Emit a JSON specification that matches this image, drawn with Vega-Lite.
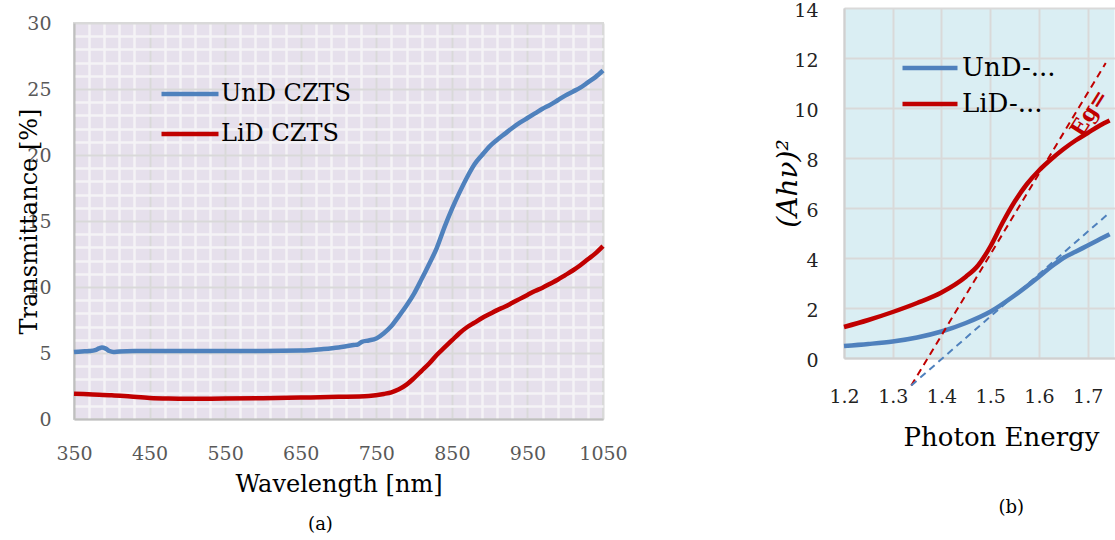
{
  "$schema": "https://vega.github.io/schema/vega-lite/v6.json",
  "background": "white",
  "padding": {"left": 16, "top": 1, "right": 0, "bottom": 0},
  "config": {"font": "DejaVu Serif"},
  "datasets": {
    "transA": [
      {"nm": 350, "T": 5.07, "series": "UnD CZTS"},
      {"nm": 360, "T": 5.12, "series": "UnD CZTS"},
      {"nm": 370, "T": 5.15, "series": "UnD CZTS"},
      {"nm": 378, "T": 5.22, "series": "UnD CZTS"},
      {"nm": 383, "T": 5.35, "series": "UnD CZTS"},
      {"nm": 387, "T": 5.42, "series": "UnD CZTS"},
      {"nm": 392, "T": 5.33, "series": "UnD CZTS"},
      {"nm": 397, "T": 5.15, "series": "UnD CZTS"},
      {"nm": 402, "T": 5.08, "series": "UnD CZTS"},
      {"nm": 410, "T": 5.12, "series": "UnD CZTS"},
      {"nm": 430, "T": 5.15, "series": "UnD CZTS"},
      {"nm": 500, "T": 5.15, "series": "UnD CZTS"},
      {"nm": 600, "T": 5.15, "series": "UnD CZTS"},
      {"nm": 650, "T": 5.18, "series": "UnD CZTS"},
      {"nm": 680, "T": 5.3, "series": "UnD CZTS"},
      {"nm": 700, "T": 5.42, "series": "UnD CZTS"},
      {"nm": 720, "T": 5.6, "series": "UnD CZTS"},
      {"nm": 726, "T": 5.66, "series": "UnD CZTS"},
      {"nm": 731, "T": 5.85, "series": "UnD CZTS"},
      {"nm": 740, "T": 5.95, "series": "UnD CZTS"},
      {"nm": 750, "T": 6.1, "series": "UnD CZTS"},
      {"nm": 760, "T": 6.5, "series": "UnD CZTS"},
      {"nm": 770, "T": 7.05, "series": "UnD CZTS"},
      {"nm": 780, "T": 7.8, "series": "UnD CZTS"},
      {"nm": 790, "T": 8.6, "series": "UnD CZTS"},
      {"nm": 800, "T": 9.5, "series": "UnD CZTS"},
      {"nm": 810, "T": 10.6, "series": "UnD CZTS"},
      {"nm": 820, "T": 11.75, "series": "UnD CZTS"},
      {"nm": 830, "T": 12.95, "series": "UnD CZTS"},
      {"nm": 840, "T": 14.5, "series": "UnD CZTS"},
      {"nm": 850, "T": 15.9, "series": "UnD CZTS"},
      {"nm": 860, "T": 17.15, "series": "UnD CZTS"},
      {"nm": 870, "T": 18.3, "series": "UnD CZTS"},
      {"nm": 880, "T": 19.3, "series": "UnD CZTS"},
      {"nm": 890, "T": 20.0, "series": "UnD CZTS"},
      {"nm": 900, "T": 20.65, "series": "UnD CZTS"},
      {"nm": 910, "T": 21.15, "series": "UnD CZTS"},
      {"nm": 920, "T": 21.6, "series": "UnD CZTS"},
      {"nm": 930, "T": 22.05, "series": "UnD CZTS"},
      {"nm": 940, "T": 22.45, "series": "UnD CZTS"},
      {"nm": 950, "T": 22.8, "series": "UnD CZTS"},
      {"nm": 960, "T": 23.15, "series": "UnD CZTS"},
      {"nm": 970, "T": 23.5, "series": "UnD CZTS"},
      {"nm": 980, "T": 23.8, "series": "UnD CZTS"},
      {"nm": 990, "T": 24.15, "series": "UnD CZTS"},
      {"nm": 1000, "T": 24.5, "series": "UnD CZTS"},
      {"nm": 1010, "T": 24.8, "series": "UnD CZTS"},
      {"nm": 1020, "T": 25.1, "series": "UnD CZTS"},
      {"nm": 1030, "T": 25.5, "series": "UnD CZTS"},
      {"nm": 1040, "T": 25.9, "series": "UnD CZTS"},
      {"nm": 1050, "T": 26.4, "series": "UnD CZTS"},
      {"nm": 350, "T": 1.92, "series": "LiD CZTS"},
      {"nm": 375, "T": 1.86, "series": "LiD CZTS"},
      {"nm": 400, "T": 1.8, "series": "LiD CZTS"},
      {"nm": 425, "T": 1.7, "series": "LiD CZTS"},
      {"nm": 450, "T": 1.6, "series": "LiD CZTS"},
      {"nm": 475, "T": 1.55, "series": "LiD CZTS"},
      {"nm": 500, "T": 1.53, "series": "LiD CZTS"},
      {"nm": 550, "T": 1.55, "series": "LiD CZTS"},
      {"nm": 600, "T": 1.58, "series": "LiD CZTS"},
      {"nm": 650, "T": 1.62, "series": "LiD CZTS"},
      {"nm": 700, "T": 1.68, "series": "LiD CZTS"},
      {"nm": 740, "T": 1.75, "series": "LiD CZTS"},
      {"nm": 760, "T": 1.9, "series": "LiD CZTS"},
      {"nm": 770, "T": 2.02, "series": "LiD CZTS"},
      {"nm": 780, "T": 2.25, "series": "LiD CZTS"},
      {"nm": 790, "T": 2.6, "series": "LiD CZTS"},
      {"nm": 800, "T": 3.1, "series": "LiD CZTS"},
      {"nm": 810, "T": 3.65, "series": "LiD CZTS"},
      {"nm": 820, "T": 4.2, "series": "LiD CZTS"},
      {"nm": 830, "T": 4.85, "series": "LiD CZTS"},
      {"nm": 840, "T": 5.4, "series": "LiD CZTS"},
      {"nm": 850, "T": 5.95, "series": "LiD CZTS"},
      {"nm": 860, "T": 6.5, "series": "LiD CZTS"},
      {"nm": 870, "T": 6.95, "series": "LiD CZTS"},
      {"nm": 880, "T": 7.3, "series": "LiD CZTS"},
      {"nm": 890, "T": 7.65, "series": "LiD CZTS"},
      {"nm": 900, "T": 7.95, "series": "LiD CZTS"},
      {"nm": 910, "T": 8.25, "series": "LiD CZTS"},
      {"nm": 920, "T": 8.5, "series": "LiD CZTS"},
      {"nm": 930, "T": 8.8, "series": "LiD CZTS"},
      {"nm": 940, "T": 9.1, "series": "LiD CZTS"},
      {"nm": 950, "T": 9.4, "series": "LiD CZTS"},
      {"nm": 960, "T": 9.7, "series": "LiD CZTS"},
      {"nm": 970, "T": 9.95, "series": "LiD CZTS"},
      {"nm": 980, "T": 10.25, "series": "LiD CZTS"},
      {"nm": 990, "T": 10.55, "series": "LiD CZTS"},
      {"nm": 1000, "T": 10.9, "series": "LiD CZTS"},
      {"nm": 1010, "T": 11.25, "series": "LiD CZTS"},
      {"nm": 1020, "T": 11.65, "series": "LiD CZTS"},
      {"nm": 1030, "T": 12.1, "series": "LiD CZTS"},
      {"nm": 1040, "T": 12.55, "series": "LiD CZTS"},
      {"nm": 1050, "T": 13.1, "series": "LiD CZTS"}
    ],
    "absB": [
      {"E": 1.2, "V": 0.48, "series": "UnD-..."},
      {"E": 1.25, "V": 0.56, "series": "UnD-..."},
      {"E": 1.3, "V": 0.66, "series": "UnD-..."},
      {"E": 1.35, "V": 0.82, "series": "UnD-..."},
      {"E": 1.4, "V": 1.06, "series": "UnD-..."},
      {"E": 1.45, "V": 1.4, "series": "UnD-..."},
      {"E": 1.5, "V": 1.85, "series": "UnD-..."},
      {"E": 1.55, "V": 2.5, "series": "UnD-..."},
      {"E": 1.6, "V": 3.25, "series": "UnD-..."},
      {"E": 1.625, "V": 3.65, "series": "UnD-..."},
      {"E": 1.65, "V": 4.0, "series": "UnD-..."},
      {"E": 1.675, "V": 4.25, "series": "UnD-..."},
      {"E": 1.7, "V": 4.5, "series": "UnD-..."},
      {"E": 1.72, "V": 4.7, "series": "UnD-..."},
      {"E": 1.745, "V": 4.95, "series": "UnD-..."},
      {"E": 1.2, "V": 1.24, "series": "LiD-..."},
      {"E": 1.25, "V": 1.52, "series": "LiD-..."},
      {"E": 1.3, "V": 1.84, "series": "LiD-..."},
      {"E": 1.35, "V": 2.2, "series": "LiD-..."},
      {"E": 1.4, "V": 2.62, "series": "LiD-..."},
      {"E": 1.45, "V": 3.25, "series": "LiD-..."},
      {"E": 1.475, "V": 3.7, "series": "LiD-..."},
      {"E": 1.5, "V": 4.45, "series": "LiD-..."},
      {"E": 1.525, "V": 5.4, "series": "LiD-..."},
      {"E": 1.55, "V": 6.25, "series": "LiD-..."},
      {"E": 1.575, "V": 6.95, "series": "LiD-..."},
      {"E": 1.6, "V": 7.5, "series": "LiD-..."},
      {"E": 1.625, "V": 7.95, "series": "LiD-..."},
      {"E": 1.65, "V": 8.35, "series": "LiD-..."},
      {"E": 1.675, "V": 8.7, "series": "LiD-..."},
      {"E": 1.7, "V": 9.0, "series": "LiD-..."},
      {"E": 1.725, "V": 9.3, "series": "LiD-..."},
      {"E": 1.745, "V": 9.5, "series": "LiD-..."}
    ],
    "fitB": [
      {"E": 1.338, "V": -1.1, "fit": "LiD"},
      {"E": 1.737, "V": 11.8, "fit": "LiD"},
      {"E": 1.338, "V": -1.1, "fit": "UnD"},
      {"E": 1.744, "V": 5.8, "fit": "UnD"}
    ],
    "egB": [
      {"E": 1.703, "V": 9.8, "label": "Eg="}
    ]
  },
  "resolve": {"scale": {"color": "independent"}, "legend": {"color": "independent"}},
  "spacing": 145,
  "hconcat": [
    {
      "spacing": 4,
      "vconcat": [
        {
          "width": 10,
          "height": 1,
          "view": {"stroke": null},
          "data": {"values": []},
          "mark": "point"
        },
        {
          "width": 529,
          "height": 396,
          "view": {"fill": "#E6E0EC", "stroke": "#D9D9D9", "strokeWidth": 2},
          "title": {"text": "(a)", "orient": "bottom", "fontSize": 18, "fontWeight": "normal", "font": "DejaVu Serif", "color": "black", "dx": -18, "offset": 20},
          "data": {"name": "transA"},
          "layer": [
            {
              "mark": {"type": "line", "opacity": 0},
              "encoding": {
                "x": {"field": "nm", "type": "quantitative", "scale": {"domain": [350, 1050], "nice": false, "zero": false},
                  "axis": {"orient": "bottom", "values": [370,390,410,430,470,490,510,530,570,590,610,630,670,690,710,730,770,790,810,830,870,890,910,930,970,990,1010,1030],
                    "grid": true, "gridColor": "#F4F3F6", "gridWidth": 2.5, "labels": false, "ticks": false, "domain": false, "title": null}},
                "y": {"field": "T", "type": "quantitative", "scale": {"domain": [0, 30], "nice": false},
                  "axis": {"orient": "left", "values": [1,2,3,4,6,7,8,9,11,12,13,14,16,17,18,19,21,22,23,24,26,27,28,29],
                    "grid": true, "gridColor": "#F4F3F6", "gridWidth": 2.5, "labels": false, "ticks": false, "domain": false, "title": null}}
              }
            },
            {
              "mark": {"type": "line", "strokeWidth": 4.5, "interpolate": "monotone"},
              "encoding": {
                "x": {"field": "nm", "type": "quantitative", "scale": {"domain": [350, 1050], "nice": false, "zero": false},
                  "axis": {"orient": "bottom", "values": [350,450,550,650,750,850,950,1050], "format": "d", "grid": true, "gridColor": "#D9D9D9", "gridWidth": 2,
                    "ticks": false, "tickSize": 0, "labelFlush": false, "labelOverlap": false, "labelFontSize": 19, "labelColor": "#595959", "labelFont": "DejaVu Serif",
                    "labelBaseline": "alphabetic", "labelPadding": 40,
                    "domain": true, "domainColor": "#BFBFBF", "domainWidth": 2,
                    "title": "Wavelength [nm]", "titleFontSize": 24, "titleFontWeight": "normal", "titleColor": "black", "titleFont": "DejaVu Serif",
                    "titleBaseline": "alphabetic", "titleY": 72}},
                "y": {"field": "T", "type": "quantitative", "scale": {"domain": [0, 30], "nice": false},
                  "axis": {"orient": "left", "values": [0,5,10,15,20,25,30], "grid": true, "gridColor": "#D9D9D9", "gridWidth": 2,
                    "ticks": false, "tickSize": 0, "labelFlush": false, "labelOverlap": false, "labelFontSize": 19, "labelColor": "#595959", "labelFont": "DejaVu Serif",
                    "labelPadding": 23,
                    "domain": true, "domainColor": "#BFBFBF", "domainWidth": 2,
                    "title": "Transmittance [%]", "titleFontSize": 24, "titleFontWeight": "normal", "titleColor": "black", "titleFont": "DejaVu Serif",
                    "titleBaseline": "alphabetic", "titleX": -38}},
                "color": {"field": "series", "type": "nominal",
                  "scale": {"domain": ["UnD CZTS", "LiD CZTS"], "range": ["#4F81BD", "#C00000"]},
                  "legend": {"orient": "none", "legendX": 85, "legendY": 66, "title": null, "symbolType": "stroke", "symbolStrokeWidth": 4.5, "symbolSize": 3249,
                    "clipHeight": 40,
                    "labelFontSize": 24, "labelFont": "DejaVu Serif", "labelColor": "black", "labelOffset": 0, "padding": 0, "rowPadding": 0}}
              }
            }
          ],
          "resolve": {"axis": {"x": "independent", "y": "independent"}}
        }
      ]
    },
    {
      "width": 270.5,
      "height": 350,
      "view": {"fill": "#DAEEF3", "stroke": null},
      "title": {"text": "(b)", "orient": "bottom", "fontSize": 18, "fontWeight": "normal", "font": "DejaVu Serif", "color": "black", "dx": 32, "offset": 49},
      "layer": [
        {
          "data": {"name": "absB"},
          "mark": {"type": "line", "strokeWidth": 4.5, "interpolate": "monotone"},
          "encoding": {
            "x": {"field": "E", "type": "quantitative", "scale": {"domain": [1.2, 1.755], "nice": false, "zero": false},
              "axis": {"values": [1.2,1.3,1.4,1.5,1.6,1.7], "format": ".1f", "grid": true, "gridColor": "#D9D9D9", "gridWidth": 2,
                "ticks": false, "tickSize": 0, "labelFlush": false, "labelOverlap": false, "labelFontSize": 19, "labelColor": "#222222", "labelFont": "DejaVu Serif",
                "labelBaseline": "alphabetic", "labelPadding": 44,
                "domain": true, "domainColor": "#D0D0D0", "domainWidth": 2,
                "title": "Photon Energy", "titleFontSize": 26, "titleFontWeight": "normal", "titleColor": "black", "titleFont": "DejaVu Serif",
                "titleBaseline": "alphabetic", "titleX": 157, "titleY": 87}},
            "y": {"field": "V", "type": "quantitative", "scale": {"domain": [0, 14], "nice": false},
              "axis": {"values": [0,2,4,6,8,10,12,14], "grid": true, "gridColor": "#D9D9D9", "gridWidth": 2,
                "ticks": false, "tickSize": 0, "labelFlush": false, "labelOverlap": false, "labelFontSize": 19, "labelColor": "#222222", "labelFont": "DejaVu Serif",
                "labelPadding": 26, "labelOffset": 2,
                "domain": true, "domainColor": "#D0D0D0", "domainWidth": 2,
                "title": "(Ahν)²", "titleFontSize": 28, "titleFontWeight": "normal", "titleFontStyle": "italic", "titleColor": "black", "titleFont": "DejaVu Serif",
                "titleBaseline": "alphabetic", "titleX": -48}},
            "color": {"field": "series", "type": "nominal",
              "scale": {"domain": ["UnD-...", "LiD-..."], "range": ["#4F81BD", "#C00000"]},
              "legend": {"orient": "none", "legendX": 56, "legendY": 42, "title": null, "symbolType": "stroke", "symbolStrokeWidth": 4.5, "symbolSize": 3025,
                "clipHeight": 36,
                "labelFontSize": 26, "labelFont": "DejaVu Serif", "labelColor": "black", "labelOffset": 2, "padding": 0, "rowPadding": 0}}
          }
        },
        {
          "data": {"name": "fitB"},
          "transform": [{"filter": "datum.fit === 'LiD'"}],
          "mark": {"type": "line", "strokeWidth": 2, "strokeDash": [7, 5], "color": "#C00000"},
          "encoding": {
            "x": {"field": "E", "type": "quantitative"},
            "y": {"field": "V", "type": "quantitative"}
          }
        },
        {
          "data": {"name": "fitB"},
          "transform": [{"filter": "datum.fit === 'UnD'"}],
          "mark": {"type": "line", "strokeWidth": 2, "strokeDash": [7, 5], "color": "#4F81BD"},
          "encoding": {
            "x": {"field": "E", "type": "quantitative"},
            "y": {"field": "V", "type": "quantitative"}
          }
        },
        {
          "data": {"name": "egB"},
          "mark": {"type": "text", "angle": 302, "color": "#C00000", "fontSize": 22, "fontWeight": "bold", "font": "DejaVu Serif"},
          "encoding": {
            "x": {"field": "E", "type": "quantitative"},
            "y": {"field": "V", "type": "quantitative"},
            "text": {"field": "label"}
          }
        }
      ]
    }
  ]
}
